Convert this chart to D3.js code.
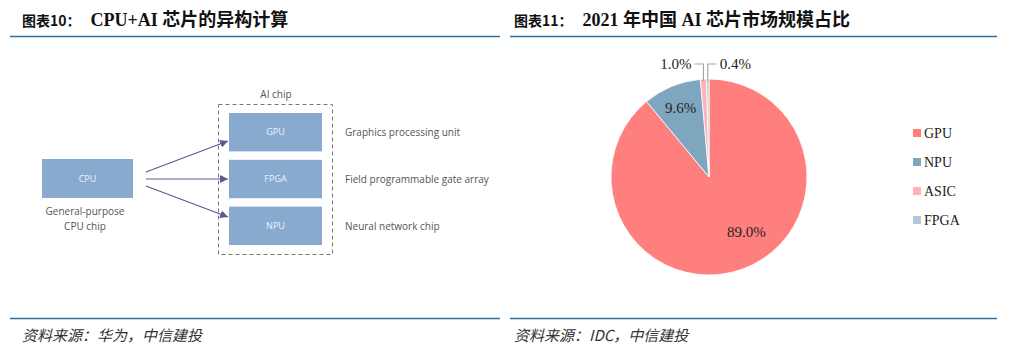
<!DOCTYPE html>
<html>
<head>
<meta charset="utf-8">
<script src="https://cdn.jsdelivr.net/npm/d3@7"></script>
<style>
  body { margin: 0; background: #fff; }
  svg { display: block; }
</style>
</head>
<body>
<svg id="chart" width="1009" height="354"></svg>
<script>
// Data
//---------------------------------------------------------------------------
var titles = ["图表10：", "图表11："];
var subTitles = ["CPU+AI 芯片的异构计算", "2021 年中国 AI 芯片市场规模占比"];
var sources = ["资料来源：华为，中信建投", "资料来源：IDC，中信建投"];

var chipNames = ["GPU", "FPGA", "NPU"];
var chipDesc = ["Graphics processing unit", "Field programmable gate array", "Neural network chip"];

var pieLabels = ["GPU", "NPU", "ASIC", "FPGA"];
var pieValues = [89.0, 9.6, 1.0, 0.4];
var pieColors = ["#ff7f7f", "#7fa6bf", "#ffb1b6", "#b3c9d7"];

var svg = d3.select("#chart");
var serif = "'Liberation Serif', 'Noto Sans CJK SC', serif";
var sans = "'Open Sans', 'Noto Sans', sans-serif";

// Headers and footers
//---------------------------------------------------------------------------
var panels = [{x: 10, w: 490, tx: 22}, {x: 510, w: 487, tx: 514}];
panels.forEach(function(p, i) {
	var t = svg.append("text")
		.attr("x", p.tx)
		.attr("y", 26)
		.attr("font-weight", "bold")
		.attr("fill", "#111");
	t.append("tspan")
		.attr("font-family", "'Noto Sans CJK SC', sans-serif")
		.attr("font-size", 14)
		.text(titles[i]);
	t.append("tspan")
		.attr("dx", 10)
		.attr("font-family", serif)
		.attr("font-size", 18)
		.text(subTitles[i]);

	svg.append("line")
		.attr("x1", p.x).attr("x2", p.x + p.w)
		.attr("y1", 36.5).attr("y2", 36.5)
		.attr("stroke", "#2f6f9f")
		.attr("stroke-width", 1.5);
	svg.append("line")
		.attr("x1", p.x).attr("x2", p.x + p.w)
		.attr("y1", 318.5).attr("y2", 318.5)
		.attr("stroke", "#2f6f9f")
		.attr("stroke-width", 1.5);

	svg.append("text")
		.attr("x", p.tx)
		.attr("y", 341)
		.attr("font-family", "'Noto Sans CJK SC', sans-serif")
		.attr("font-size", 15)
		.attr("font-style", "italic")
		.attr("fill", "#333")
		.text(sources[i]);
});

// Left panel: CPU + AI chip diagram
//---------------------------------------------------------------------------
var boxFill = "#88aacf";
var arrowColor = "#5b5c8e";
var diag = svg.append("g");

var yChip = d3.scaleBand()
	.domain(chipNames)
	.range([113, 245])
	.paddingInner(0.18);

// dashed AI chip frame
diag.append("rect")
	.attr("x", 218.5).attr("y", 104.5)
	.attr("width", 114).attr("height", 150)
	.attr("fill", "none")
	.attr("stroke", "#777")
	.attr("stroke-dasharray", "4,3");
diag.append("text")
	.attr("x", 276).attr("y", 98)
	.attr("text-anchor", "middle")
	.attr("font-family", sans).attr("font-size", 10)
	.attr("fill", "#555")
	.text("AI chip");

// CPU box
diag.append("rect")
	.attr("x", 42).attr("y", 159)
	.attr("width", 91).attr("height", 39)
	.attr("fill", boxFill);
diag.append("text")
	.attr("x", 87.5).attr("y", 182)
	.attr("text-anchor", "middle")
	.attr("font-family", sans).attr("font-size", 9)
	.attr("fill", "#eef3f9")
	.text("CPU");
diag.selectAll("text.cpuLabel")
	.data(["General-purpose", "CPU chip"])
	.enter().append("text")
	.attr("class", "cpuLabel")
	.attr("x", 85)
	.attr("y", function(d, i) { return 215 + i * 15; })
	.attr("text-anchor", "middle")
	.attr("font-family", sans).attr("font-size", 10)
	.attr("fill", "#555")
	.text(function(d) { return d; });

// chip boxes
diag.selectAll("rect.chip")
	.data(chipNames)
	.enter().append("rect")
	.attr("class", "chip")
	.attr("x", 229)
	.attr("y", function(d) { return yChip(d); })
	.attr("width", 93)
	.attr("height", yChip.bandwidth())
	.attr("fill", boxFill);
diag.selectAll("text.chip")
	.data(chipNames)
	.enter().append("text")
	.attr("class", "chip")
	.attr("x", 275.5)
	.attr("y", function(d) { return yChip(d) + yChip.bandwidth() / 2 + 3; })
	.attr("text-anchor", "middle")
	.attr("font-family", sans).attr("font-size", 9)
	.attr("fill", "#eef3f9")
	.text(function(d) { return d; });
diag.selectAll("text.desc")
	.data(chipDesc)
	.enter().append("text")
	.attr("class", "desc")
	.attr("x", 345)
	.attr("y", function(d, i) { return yChip(chipNames[i]) + yChip.bandwidth() / 2 + 4; })
	.attr("font-family", sans).attr("font-size", 10)
	.attr("fill", "#555")
	.text(function(d) { return d; });

// arrows
svg.append("defs").append("marker")
	.attr("id", "arrow")
	.attr("viewBox", "0 0 10 10")
	.attr("refX", 10).attr("refY", 5)
	.attr("markerWidth", 8).attr("markerHeight", 8)
	.attr("markerUnits", "userSpaceOnUse")
	.attr("orient", "auto")
	.append("path")
	.attr("d", "M0,0L10,5L0,10z")
	.attr("fill", arrowColor);

var arrowStart = [172, 179, 186];
var arrowEnd = [141, 179, 217];
diag.selectAll("line.arrow")
	.data(chipNames)
	.enter().append("line")
	.attr("class", "arrow")
	.attr("x1", 146)
	.attr("y1", function(d, i) { return arrowStart[i]; })
	.attr("x2", 228)
	.attr("y2", function(d, i) { return arrowEnd[i]; })
	.attr("stroke", arrowColor)
	.attr("stroke-width", 1.2)
	.attr("marker-end", "url(#arrow)");

// Right panel: pie
//---------------------------------------------------------------------------
var cx = 709, cy = 177, R = 98;
var pieData = pieLabels.map(function(d, i) { return {name: d, value: pieValues[i]}; });
var arcs = d3.pie().sort(null).value(function(d) { return d.value; })(pieData);
var arc = d3.arc().innerRadius(0).outerRadius(R);

var pieG = svg.append("g").attr("transform", "translate(" + cx + "," + cy + ")");
pieG.selectAll("path")
	.data(arcs)
	.enter().append("path")
	.attr("d", arc)
	.attr("fill", function(d, i) { return pieColors[i]; })
	.attr("stroke", "#fff")
	.attr("stroke-width", 0.8);

var fmt = function(v) { return v.toFixed(1) + "%"; };
// inside labels for the two large slices
var labelR = [0.68, 0.76];
arcs.slice(0, 2).forEach(function(d, i) {
	var a = (d.startAngle + d.endAngle) / 2 - (i === 0 ? 0.25 : 0);
	var r = R * labelR[i];
	pieG.append("text")
		.attr("x", Math.sin(a) * r)
		.attr("y", -Math.cos(a) * r + 5)
		.attr("text-anchor", "middle")
		.attr("font-family", serif).attr("font-size", 15)
		.attr("fill", "#222")
		.text(fmt(d.data.value));
});
// outside labels with leader lines for the two small slices
var legY = -113;
arcs.slice(2).forEach(function(d, i) {
	var a = (d.startAngle + d.endAngle) / 2;
	var px = Math.sin(a) * R, py = -Math.cos(a) * R;
	var side = i === 0 ? -1 : 1;
	var ex = px + side * 9;
	pieG.append("polyline")
		.attr("points", [[px, py + 2], [px, legY], [ex, legY]].join(" "))
		.attr("fill", "none")
		.attr("stroke", "#a6a6a6")
		.attr("stroke-width", 1.2);
	pieG.append("text")
		.attr("x", ex + side * 3)
		.attr("y", legY + 5)
		.attr("text-anchor", side < 0 ? "end" : "start")
		.attr("font-family", serif).attr("font-size", 15)
		.attr("fill", "#222")
		.text(fmt(d.data.value));
});

// legend
var yLeg = d3.scalePoint().domain(pieLabels).range([133, 220]);
var leg = svg.selectAll("g.legend")
	.data(pieLabels)
	.enter().append("g")
	.attr("class", "legend")
	.attr("transform", function(d) { return "translate(913," + yLeg(d) + ")"; });
leg.append("rect")
	.attr("x", 0).attr("y", -4)
	.attr("width", 8).attr("height", 8)
	.attr("fill", function(d, i) { return pieColors[i]; });
leg.append("text")
	.attr("x", 11).attr("y", 5)
	.attr("font-family", serif).attr("font-size", 14)
	.attr("fill", "#222")
	.text(function(d) { return d; });
</script>
</body>
</html>
